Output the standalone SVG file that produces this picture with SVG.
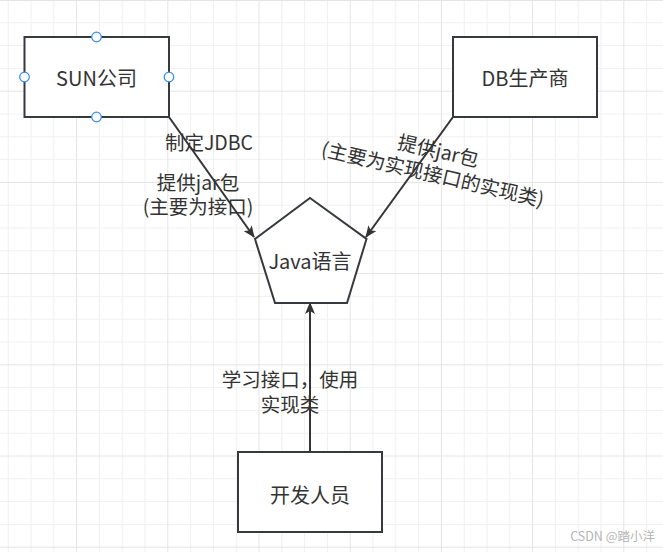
<svg xmlns="http://www.w3.org/2000/svg" width="663" height="552" viewBox="0 0 663 552">
<style>
.t{font-family:"Noto Sans CJK SC","Liberation Sans",sans-serif;font-size:20px;fill:#333;text-anchor:middle;dominant-baseline:central}
.lbl{font-size:19.5px}
.box{fill:#fff;stroke:#36393d;stroke-width:2}
.edge{fill:none;stroke:#333;stroke-width:2}
.h{fill:#fff;stroke:#2f8cf0;stroke-width:1.2}
.wm{font-family:"Noto Sans CJK SC","Liberation Sans",sans-serif;font-size:12.5px;fill:#b5b5b5;text-anchor:end}
</style>
<defs>
<marker id="arr" viewBox="0 0 12 10" refX="11" refY="5" markerWidth="12" markerHeight="10" markerUnits="userSpaceOnUse" orient="auto">
<path d="M0,0 L12,5 L0,10 L3,5 Z" fill="#333"/>
</marker>
</defs>
<rect width="663" height="552" fill="#fff"/>
<g id="grid" fill="none">
<path stroke="#f0f0f0" stroke-width="1" d="M8.2 0V552M31 0V552M53.8 0V552M99.4 0V552M122.2 0V552M145 0V552M190.6 0V552M213.4 0V552M236.2 0V552M281.8 0V552M304.6 0V552M327.4 0V552M373 0V552M395.8 0V552M418.6 0V552M464.2 0V552M487 0V552M509.8 0V552M555.4 0V552M578.2 0V552M601 0V552M646.6 0V552M0 22.8H663M0 45.6H663M0 68.4H663M0 114H663M0 136.8H663M0 159.6H663M0 205.2H663M0 228H663M0 250.8H663M0 296.4H663M0 319.2H663M0 342H663M0 387.6H663M0 410.4H663M0 433.2H663M0 478.8H663M0 501.6H663M0 524.4H663"/>
<path stroke="#e4e4e4" stroke-width="1" d="M76.6 0V552M167.8 0V552M259 0V552M350.2 0V552M441.4 0V552M532.6 0V552M623.8 0V552M0 0.5H663M0 91.2H663M0 182.4H663M0 273.6H663M0 364.8H663M0 456H663M0 547.2H663"/>
</g>
<g id="connectors">
<g id="e-sun-java">
<line class="edge" x1="169" y1="117" x2="254" y2="237" marker-end="url(#arr)"/>
<text class="t lbl" x="209" y="141">制定JDBC</text>
<text class="t lbl" x="198" y="181">提供jar包</text>
<text class="t lbl" x="198" y="205">(主要为接口)</text>
</g>
<g id="e-db-java">
<line class="edge" x1="453" y1="117" x2="366" y2="237" marker-end="url(#arr)"/>
<g transform="translate(435.8,161.2) rotate(13)">
<text class="t lbl" x="0" y="-12">提供jar包</text>
<text class="t lbl" x="0" y="12">(主要为实现接口的实现类)</text>
</g>
</g>
<g id="e-dev-java">
<line class="edge" x1="310" y1="452" x2="310" y2="303" marker-end="url(#arr)"/>
<text class="t lbl" x="290" y="378">学习接口，使用</text>
<text class="t lbl" x="290" y="403">实现类</text>
</g>
</g>
<g id="sun">
<rect class="box" x="24.5" y="37" width="144.5" height="80"/>
<text class="t" x="96.5" y="77">SUN公司</text>
<circle class="h" cx="96.5" cy="37" r="4.8"/>
<circle class="h" cx="24.5" cy="77" r="4.8"/>
<circle class="h" cx="169" cy="77" r="4.8"/>
<circle class="h" cx="96.5" cy="117" r="4.8"/>
</g>
<g id="db">
<rect class="box" x="453" y="37" width="144" height="80"/>
<text class="t" x="525" y="77">DB生产商</text>
</g>
<g id="java">
<polygon class="box" points="310,198 366.5,239 347,303 275,303 255,239"/>
<text class="t" x="310" y="260">Java语言</text>
</g>
<g id="dev">
<rect class="box" x="238" y="452" width="144" height="80"/>
<text class="t" x="310" y="494">开发人员</text>
</g>
<text class="wm" x="655" y="541">CSDN @踏小洋</text>
</svg>
